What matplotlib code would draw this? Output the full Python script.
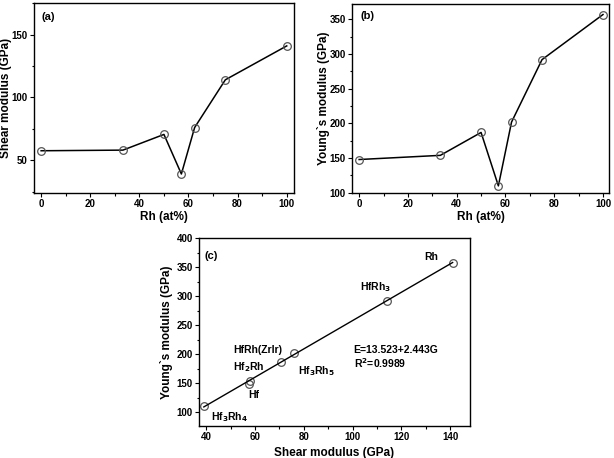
import matplotlib.pyplot as plt
from matplotlib.ticker import MultipleLocator

plt.rcParams['font.family'] = ['Liberation Sans', 'DejaVu Sans']
plt.rcParams['font.weight'] = 'bold'
plt.rcParams['mathtext.default'] = 'bf'

# Rh content (at%) and moduli (GPa)
rh = [0, 33.3, 50, 57.1, 62.5, 75, 100]
shear = [57.5, 58, 70.5, 39, 76, 114, 141]
young = [148, 154, 187, 110, 202, 292, 357]
names = ['Hf', 'Hf$_2$Rh', 'HfRh(ZrIr)', 'Hf$_3$Rh$_4$', 'Hf$_3$Rh$_5$', 'HfRh$_3$', 'Rh']
name_pos = [(57.4, 130), (51, 178), (51, 207), (42, 92), (77.8, 170), (103, 316), (129.5, 367)]
fit_a, fit_b = 13.523, 2.443

fig = plt.figure(figsize=(6.14, 4.58), dpi=100)
ax1 = fig.add_axes([0.055, 0.579, 0.424, 0.414])
ax2 = fig.add_axes([0.573, 0.579, 0.419, 0.412])
ax3 = fig.add_axes([0.324, 0.070, 0.441, 0.410])

mk = dict(marker='o', mfc='none', mec='#555555', ms=5.5, mew=0.9, color='black', lw=1.1)


def style(ax):
    ax.tick_params(which='both', direction='out', labelsize=7, width=0.8, pad=1.5)
    ax.tick_params(which='major', length=3)
    ax.tick_params(which='minor', length=1.8)
    ax.xaxis.set_major_locator(MultipleLocator(20))
    ax.xaxis.set_minor_locator(MultipleLocator(10))
    ax.yaxis.set_major_locator(MultipleLocator(50))
    ax.yaxis.set_minor_locator(MultipleLocator(25))
    for s in ax.spines.values():
        s.set_linewidth(1.0)


ax1.plot(rh, shear, **mk)
ax1.set_xlim(-3, 103)
ax1.set_ylim(24, 175)
ax1.set_xlabel('Rh (at%)', fontsize=8.5, fontweight='bold')
ax1.set_ylabel('Shear modulus (GPa)', fontsize=8.5, fontweight='bold')
ax1.xaxis.set_label_coords(0.5, -0.095)
ax1.yaxis.set_label_coords(-0.085, 0.5)
ax1.text(0, 164, '(a)', fontsize=8, fontweight='bold', va='center')
style(ax1)

ax2.plot(rh, young, **mk)
ax2.set_xlim(-3, 102.5)
ax2.set_ylim(100, 372)
ax2.set_xlabel('Rh (at%)', fontsize=8.5, fontweight='bold')
ax2.set_ylabel('Young`s modulus (GPa)', fontsize=8.5, fontweight='bold')
ax2.xaxis.set_label_coords(0.5, -0.095)
ax2.yaxis.set_label_coords(-0.084, 0.5)
ax2.text(0.7, 355, '(b)', fontsize=8, fontweight='bold', va='center')
style(ax2)

ax3.plot(shear, young, ls='none', marker='o', mfc='none', mec='#555555', ms=5.5, mew=0.9)
gx = [min(shear), max(shear)]
ax3.plot(gx, [fit_a + fit_b * g for g in gx], color='black', lw=1.0)
for n, (tx, ty) in zip(names, name_pos):
    ax3.text(tx, ty, n, fontsize=7.5, fontweight='bold', va='center')
ax3.text(100.4, 207, 'E=13.523+2.443G', fontsize=7.5, fontweight='bold', va='center')
ax3.text(100.4, 184, 'R$^2$=0.9989', fontsize=7.5, fontweight='bold', va='center')
ax3.text(39.3, 370, '(c)', fontsize=8, fontweight='bold', va='center')
ax3.set_xlim(37, 148)
ax3.set_ylim(76, 400)
ax3.set_xlabel('Shear modulus (GPa)', fontsize=8.5, fontweight='bold')
ax3.set_ylabel('Young`s modulus (GPa)', fontsize=8.5, fontweight='bold')
ax3.xaxis.set_label_coords(0.5, -0.112)
ax3.yaxis.set_label_coords(-0.095, 0.5)
style(ax3)

plt.savefig('out.png', dpi=100)
